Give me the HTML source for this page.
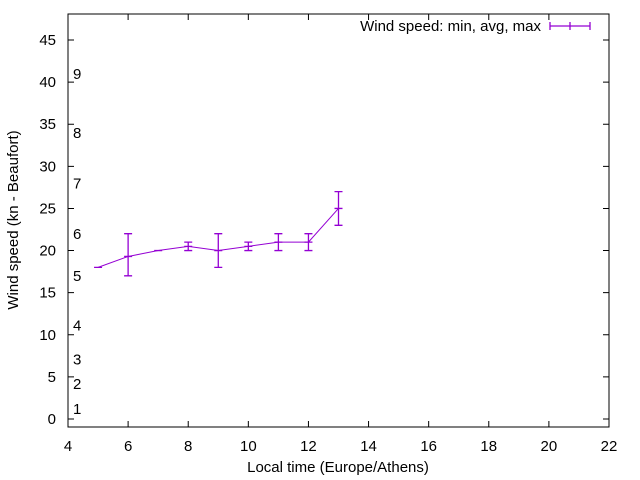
<!DOCTYPE html>
<html><head><meta charset="utf-8"><style>body{margin:0;background:#fff}svg{display:block;font-family:"Liberation Sans",sans-serif}</style></head>
<body>
<svg id="chart" width="640" height="480" xmlns="http://www.w3.org/2000/svg"></svg>
<script>
const hours=[5,6,7,8,9,10,11,12,13];
const avgSpeed=[18,19.3,20,20.5,20,20.5,21,21,25];
const minSpeed=[18,17,20,20,18,20,20,20,23];
const maxSpeed=[18,22,20,21,22,21,22,22,27];
const xTicks=[4,6,8,10,12,14,16,18,20,22];
const yTicks=[0,5,10,15,20,25,30,35,40,45];
const beaufortLabels=["1","2","3","4","5","6","7","8","9"];
const beaufortKn=[1.3,4.3,7.2,11.2,17.1,22.1,28.1,34.1,41.1];
const L=68,R=609,T=14,B=427;
const X=v=>68+(v-4)*(541/18);
const Y=v=>419-v*(379/45);
const svg=document.getElementById('chart');
const NS="http://www.w3.org/2000/svg";
function mk(t,a,p){const e=document.createElementNS(NS,t);for(const k in a)e.setAttribute(k,a[k]);(p||svg).appendChild(e);return e;}
let e;
e=mk('rect',{x:L,y:T,width:R-L,height:B-T,fill:'none',stroke:'#000','stroke-width':1});


xTicks.forEach(v=>{
 e=mk('path',{d:`M${X(v)},${B}v-6M${X(v)},${T}v6`,stroke:'#000'});
 
 
 e=mk('text',{x:X(v),y:451,'text-anchor':'middle','font-size':15});e.textContent=v;
 
 
});
yTicks.forEach(v=>{
 e=mk('path',{d:`M${L},${Y(v)}h6M${R},${Y(v)}h-6`,stroke:'#000'});
 
 
 e=mk('text',{x:56,y:Y(v)+5,'text-anchor':'end','font-size':15});e.textContent=v;
 
 
});
beaufortLabels.forEach((s,i)=>{
 e=mk('text',{x:73,y:Y(beaufortKn[i])+6,'font-size':15});e.textContent=s;
 
 
});
e=mk('text',{x:338,y:472,'text-anchor':'middle','font-size':15});e.textContent='Local time (Europe/Athens)';


e=mk('text',{x:18,y:220,'text-anchor':'middle','font-size':15,transform:'rotate(-90 18 220)'});e.textContent='Wind speed (kn - Beaufort)';


const col='#9400d3';
e=mk('polyline',{points:hours.map((h,i)=>X(h)+','+Y(avgSpeed[i])).join(' '),fill:'none',stroke:col,'stroke-width':1});


hours.forEach((h,i)=>{
 const x=X(h),a=Y(minSpeed[i]),b=Y(maxSpeed[i]),m=Y(avgSpeed[i]);
 e=mk('path',{d:`M${x},${a}V${b}M${x-4},${a}h8M${x-4},${b}h8M${x-4},${m}h8`,stroke:col,'stroke-width':1.3,fill:'none'});
 
 
});
e=mk('text',{x:541,y:31,'text-anchor':'end','font-size':15});e.textContent='Wind speed: min, avg, max';


e=mk('path',{d:'M550,26H590M550,22v8M590,22v8M570,22v8',stroke:col,'stroke-width':1.3});


</script>
</body></html>
